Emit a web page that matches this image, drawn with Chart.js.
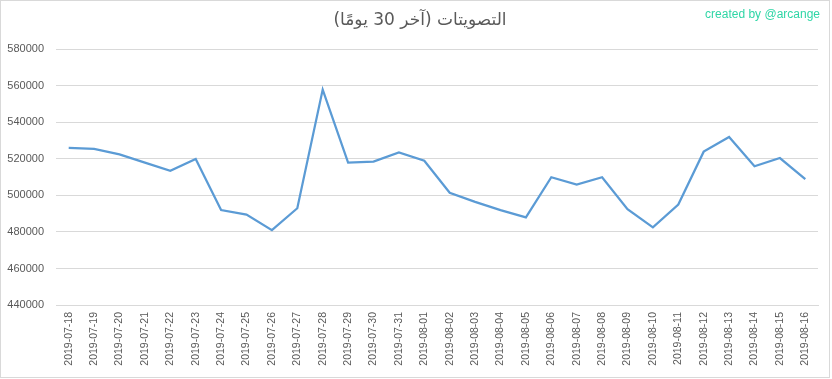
<!DOCTYPE html>
<html>
<head>
<meta charset="utf-8">
<script src="https://cdn.jsdelivr.net/npm/chart.js@4/dist/chart.umd.min.js"></script>
<style>
  html, body { margin: 0; padding: 0; background: #fff; }
  #wrap { width: 832px; height: 379px; position: relative; }
</style>
</head>
<body>
<div id="wrap"><canvas id="votesChart" width="832" height="379"></canvas></div>
<script>
const dates = [
  "2019-07-18", "2019-07-19", "2019-07-20", "2019-07-21", "2019-07-22", "2019-07-23",
  "2019-07-24", "2019-07-25", "2019-07-26", "2019-07-27", "2019-07-28", "2019-07-29",
  "2019-07-30", "2019-07-31", "2019-08-01", "2019-08-02", "2019-08-03", "2019-08-04",
  "2019-08-05", "2019-08-06", "2019-08-07", "2019-08-08", "2019-08-09", "2019-08-10",
  "2019-08-11", "2019-08-12", "2019-08-13", "2019-08-14", "2019-08-15", "2019-08-16"
];
const votes = [
  526000, 525500, 522500, 518000, 513500, 520000,
  492000, 489500, 481000, 493000, 558000, 518000,
  518500, 523500, 519000, 501500, 496500, 492000,
  488000, 510000, 506000, 510000, 492500, 482500,
  495000, 524000, 532000, 516000, 520500, 509000
];
const yTicks = { min: 440000, max: 580000, step: 20000 };
const chartTitle = "التصويتات (آخر 30 يومًا)";
const watermark = "created by @arcange";

const titleFont = { family: "'DejaVu Sans', sans-serif", size: 17, weight: "normal" };

// outer frame, the title (centred on the whole picture, not the plot) and the credit line
const frame = {
  id: "frame",
  afterDraw(chart) {
    const ctx = chart.ctx;
    ctx.save();
    ctx.strokeStyle = "#d9d9d9";
    ctx.lineWidth = 1;
    ctx.strokeRect(0.5, 0.5, 829, 377);

    const tb = chart.titleBlock;
    ctx.fillStyle = "#595959";
    ctx.font = "17px 'DejaVu Sans', sans-serif";
    ctx.textAlign = "center";
    ctx.textBaseline = "middle";
    ctx.fillText(chartTitle, 420, tb.top + 10 + titleFont.size * 0.6);

    ctx.fillStyle = "#2fd6a6";
    ctx.font = "12px 'Liberation Sans', Arial, sans-serif";
    ctx.textAlign = "right";
    ctx.textBaseline = "alphabetic";
    ctx.fillText(watermark, 820, 18);
    ctx.restore();
  }
};

new Chart(document.getElementById("votesChart"), {
  type: "line",
  data: {
    labels: dates,
    datasets: [{
      label: "votes",
      data: votes,
      borderColor: "#5b9bd5",
      borderWidth: 2.25,
      pointRadius: 0,
      pointHoverRadius: 0,
      tension: 0,
      fill: false
    }]
  },
  options: {
    responsive: false,
    animation: false,
    layout: { padding: { top: 0, left: 0, right: 14, bottom: 0 } },
    plugins: {
      legend: { display: false },
      tooltip: { enabled: false },
      title: {
        display: true,
        text: chartTitle,
        color: "rgba(0,0,0,0)",
        font: titleFont,
        padding: { top: 10, bottom: 19 }
      }
    },
    scales: {
      x: {
        offset: true,
        grid: { display: false, drawTicks: false },
        border: { display: true, color: "#d9d9d9" },
        ticks: {
          autoSkip: false,
          maxRotation: 90,
          minRotation: 90,
          padding: 7,
          color: "#595959",
          font: { family: "'Liberation Sans', Arial, sans-serif", size: 10.5 }
        },
        afterFit(scale) { scale.height = 74; }
      },
      y: {
        min: yTicks.min,
        max: yTicks.max,
        grid: { color: "#d9d9d9", drawTicks: false },
        border: { display: false },
        ticks: {
          stepSize: yTicks.step,
          padding: 12,
          color: "#595959",
          font: { family: "'Liberation Sans', Arial, sans-serif", size: 11 },
          callback: (v) => String(v)
        },
        afterFit(scale) { scale.width = 56; }
      }
    }
  },
  plugins: [frame]
});
</script>
</body>
</html>
